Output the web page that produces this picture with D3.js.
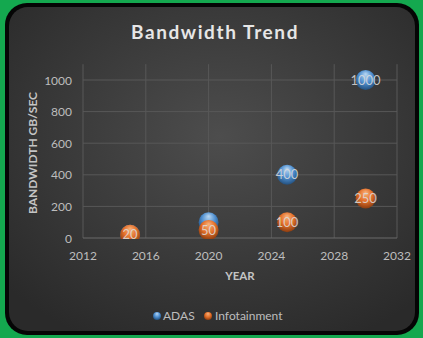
<!DOCTYPE html>
<html>
<head>
<meta charset="utf-8">
<script src="https://cdn.jsdelivr.net/npm/d3@7"></script>
<style>
  body { margin: 0; background: #14a84f; }
  svg { display: block; }
  text { font-family: Lato, "Open Sans", sans-serif; }
</style>
</head>
<body>
<svg id="chart" width="423" height="338"></svg>
<script>
var years = [2015, 2020, 2025, 2030];
var adas = [20, 100, 400, 1000];
var infotainment = [20, 50, 100, 250];
var seriesNames = ['ADAS', 'Infotainment'];
var xTicks = [2012, 2016, 2020, 2024, 2028, 2032];
var yTicks = [0, 200, 400, 600, 800, 1000];

var svg = d3.select("#chart");
var defs = svg.append("defs");

// background radial
var bg = defs.append("radialGradient").attr("id", "bg")
    .attr("cx", "52%").attr("cy", "40%").attr("r", "70%");
bg.append("stop").attr("offset", "0%").attr("stop-color", "#4d4d4d");
bg.append("stop").attr("offset", "100%").attr("stop-color", "#2a2a2a");

function ball(id, light, mid, dark) {
    var g = defs.append("radialGradient").attr("id", id)
        .attr("cx", "50%").attr("cy", "40%").attr("r", "60%")
        .attr("fx", "50%").attr("fy", "20%");
    g.append("stop").attr("offset", "0%").attr("stop-color", light);
    g.append("stop").attr("offset", "55%").attr("stop-color", mid);
    g.append("stop").attr("offset", "100%").attr("stop-color", dark);
}
ball("ballBlue", "#b9d7f2", "#4f8fd0", "#23507e");
ball("ballOrange", "#f7b27c", "#e4702a", "#8a3c10");

// frame
svg.append("rect").attr("x", 5).attr("y", 3).attr("width", 414).attr("height", 332)
    .attr("rx", 22).attr("fill", "#050505");
svg.append("rect").attr("x", 9).attr("y", 7).attr("width", 406).attr("height", 324)
    .attr("rx", 19).attr("fill", "url(#bg)");

var x = d3.scaleLinear().domain([2012, 2032]).range([83, 397]);
var y = d3.scaleLinear().domain([0, 1000]).range([238, 80]);
var r = 10;

defs.append("clipPath").attr("id", "plotclip").append("rect")
    .attr("x", 70).attr("y", 55).attr("width", 340).attr("height", 184);

// gridlines
svg.append("g").selectAll("line.h").data(yTicks.slice(1)).enter().append("line")
    .attr("x1", x(2012)).attr("x2", x(2032))
    .attr("y1", d => y(d)).attr("y2", d => y(d))
    .attr("stroke", "#585858").attr("stroke-width", 1);
svg.append("g").selectAll("line.v").data(xTicks).enter().append("line")
    .attr("x1", d => x(d)).attr("x2", d => x(d))
    .attr("y1", y(1100)).attr("y2", y(0))
    .attr("stroke", "#585858").attr("stroke-width", 1);
svg.append("line").attr("x1", x(2012)).attr("x2", x(2032))
    .attr("y1", y(0)).attr("y2", y(0))
    .attr("stroke", "#6a6a6a").attr("stroke-width", 1);

// tick labels
svg.append("g").selectAll("text").data(yTicks).enter().append("text")
    .attr("x", 72).attr("y", d => y(d) + 4.5)
    .attr("text-anchor", "end").attr("font-size", 12).attr("fill", "#bdbdbd")
    .text(d => d);
svg.append("g").selectAll("text").data(xTicks).enter().append("text")
    .attr("x", d => x(d)).attr("y", 260)
    .attr("text-anchor", "middle").attr("font-size", 12).attr("fill", "#bdbdbd")
    .text(d => d);

// axis titles
svg.append("text").attr("x", 240).attr("y", 280).attr("text-anchor", "middle")
    .attr("font-size", 11.5).attr("font-weight", "bold").attr("fill", "#c4c4c4").text("YEAR");
svg.append("text").attr("transform", "translate(37,153) rotate(-90)").attr("text-anchor", "middle")
    .attr("font-size", 12).attr("font-weight", "bold").attr("fill", "#c4c4c4").text("BANDWIDTH GB/SEC");

// title
svg.append("text").attr("x", 215).attr("y", 39).attr("text-anchor", "middle")
    .attr("font-size", 19).attr("font-weight", "bold").attr("letter-spacing", 1.6)
    .attr("fill", "#e6e6e6").text("Bandwidth Trend");

var series = [
    {name: seriesNames[0], values: adas, fill: "url(#ballBlue)"},
    {name: seriesNames[1], values: infotainment, fill: "url(#ballOrange)"}
];
series.forEach(function(s) {
    s.pts = years.map((yr, i) => ({yr: yr, v: s.values[i]}));
});

// a label is hidden when a later series' bubble sits over it
function covered(d, si) {
    return series.slice(si + 1).some(function(o) {
        return o.pts.some(p => Math.hypot(x(p.yr) - x(d.yr), y(p.v) - y(d.v)) < r * 1.3);
    });
}

var plot = svg.append("g").attr("clip-path", "url(#plotclip)");
series.forEach(function(s, si) {
    var g = plot.append("g");
    g.selectAll("circle").data(s.pts).enter().append("circle")
        .attr("cx", d => x(d.yr)).attr("cy", d => y(d.v)).attr("r", r)
        .attr("fill", s.fill);
    g.selectAll("text").data(s.pts.filter(d => !covered(d, si))).enter().append("text")
        .attr("x", d => x(d.yr)).attr("y", d => y(d.v) + 4.5)
        .attr("text-anchor", "middle").attr("font-size", 13)
        .attr("font-family", "'Liberation Serif', serif")
        .attr("fill", "#dcdcdc").attr("fill-opacity", 0.85)
        .text(d => d.v);
});

// legend
var legend = svg.append("g");
var legendPos = [{cx: 157, tx: 163}, {cx: 208, tx: 215}];
series.forEach(function(s, i) {
    legend.append("circle").attr("cx", legendPos[i].cx).attr("cy", 316).attr("r", 4)
        .attr("fill", s.fill);
    legend.append("text").attr("x", legendPos[i].tx).attr("y", 320)
        .attr("font-size", 12).attr("fill", "#bdbdbd").text(s.name);
});
</script>
</body>
</html>
